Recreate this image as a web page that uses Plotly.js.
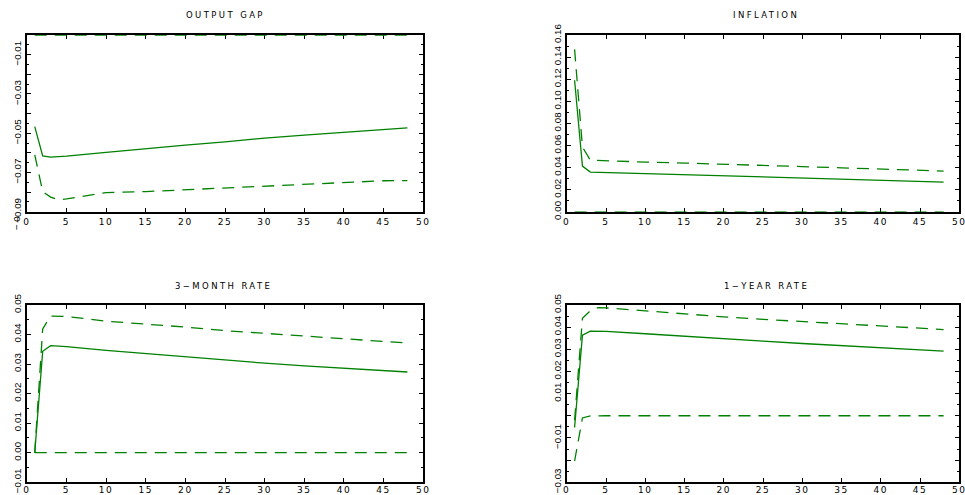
<!DOCTYPE html>
<html>
<head>
<meta charset="utf-8">
<script src="https://cdn.plot.ly/plotly-3.0.1.min.js"></script>
<style>
  html, body { margin: 0; padding: 0; background: #ffffff; }
  #chart { width: 965px; height: 495px; }
  .annotation-text { letter-spacing: 2.4px; }
  .xtick text, .x2tick text, .x3tick text, .x4tick text { letter-spacing: 1.6px; }
</style>
</head>
<body>
<div id="chart"></div>
<script>
// Horizon (periods at which values were read)
const periods = [1, 2, 3, 4, 5, 10, 15, 20, 25, 30, 35, 40, 45, 48];

// OUTPUT GAP
const gapMid   = [-0.0466, -0.0615, -0.0622, -0.0620, -0.0617, -0.0597, -0.0578, -0.0561, -0.0544, -0.0525, -0.0510, -0.0495, -0.0481, -0.0473];
const gapLower = [-0.0610, -0.0797, -0.0825, -0.0839, -0.0834, -0.0802, -0.0797, -0.0788, -0.0776, -0.0768, -0.0759, -0.0749, -0.0742, -0.0741];
const gapUpper = [0, 0, 0, 0, 0, 0, 0, 0, 0, 0, 0, 0, 0, 0];

// INFLATION
const infMid   = [0.119, 0.0414, 0.0360, 0.0358, 0.0356, 0.0348, 0.0335, 0.0323, 0.0312, 0.0302, 0.0293, 0.0284, 0.0275, 0.0269];
const infUpper = [0.147, 0.0586, 0.0468, 0.0465, 0.0462, 0.0450, 0.0441, 0.0432, 0.0420, 0.0409, 0.0398, 0.0387, 0.0376, 0.0369];
const infLower = [0, 0, 0, 0, 0, 0, 0, 0, 0, 0, 0, 0, 0, 0];

// 3-MONTH RATE
const m3Mid    = [0, 0.0343, 0.0362, 0.0361, 0.0359, 0.0346, 0.0335, 0.0323, 0.0313, 0.0303, 0.0294, 0.0286, 0.0278, 0.0273];
const m3Upper  = [0, 0.0419, 0.0462, 0.0462, 0.0461, 0.0445, 0.0436, 0.0425, 0.0413, 0.0404, 0.0394, 0.0385, 0.0376, 0.0371];
const m3Lower  = [0, 0, 0, 0, 0, 0, 0, 0, 0, 0, 0, 0, 0, 0];

// 1-YEAR RATE
const y1Mid    = [-0.0053, 0.0364, 0.0382, 0.0382, 0.0381, 0.0370, 0.0358, 0.0348, 0.0337, 0.0326, 0.0316, 0.0307, 0.0297, 0.0292];
const y1Upper  = [-0.0020, 0.0440, 0.0473, 0.0488, 0.0487, 0.0473, 0.0458, 0.0446, 0.0435, 0.0425, 0.0416, 0.0405, 0.0394, 0.0389];
const y1Lower  = [-0.0204, -0.0010, -0.0001, 0, 0, 0, 0, 0, 0, 0, 0, 0, 0, 0];

// Titles
const panelTitles = ['OUTPUT GAP', 'INFLATION', '3\u2212MONTH RATE', '1\u2212YEAR RATE'];

// Y tick values / labels (as printed in the original)
const gapTickVals = [-0.09, -0.08, -0.07, -0.06, -0.05, -0.04, -0.03, -0.02, -0.01, 0];
const gapTickText = ['\u22120.09', '', '\u22120.07', '', '\u22120.05', '', '\u22120.03', '', '\u22120.01', ''];
const gapStrayLabel = '\u22120';
const infTickVals = [0, 0.02, 0.04, 0.06, 0.08, 0.10, 0.12, 0.14, 0.16];
const infTickText = ['0.00', '0.02', '0.04', '0.06', '0.08', '0.10', '0.12', '0.14', '0.16'];
const m3TickVals  = [-0.01, 0, 0.01, 0.02, 0.03, 0.04, 0.05];
const m3TickText  = ['\u22120.01', '0.00', '0.01', '0.02', '0.03', '0.04', '0.05'];
const y1TickVals  = [-0.03, -0.02, -0.01, 0, 0.01, 0.02, 0.03, 0.04, 0.05];
const y1TickText  = ['\u22120.03', '', '\u22120.01', '', '0.01', '0.02', '0.03', '0.04', '0.05'];

const green = '#008000';
const dashStyle = '12px,8px';

function band(xa, ya, mid, up, lo) {
  return [
    { x: periods, y: up,  xaxis: xa, yaxis: ya, type: 'scatter', mode: 'lines',
      line: { color: green, width: 1.3, dash: dashStyle }, hoverinfo: 'skip' },
    { x: periods, y: lo,  xaxis: xa, yaxis: ya, type: 'scatter', mode: 'lines',
      line: { color: green, width: 1.3, dash: dashStyle }, hoverinfo: 'skip' },
    { x: periods, y: mid, xaxis: xa, yaxis: ya, type: 'scatter', mode: 'lines',
      line: { color: green, width: 1.3 }, hoverinfo: 'skip' }
  ];
}

const data = [].concat(
  band('x', 'y', gapMid, gapUpper, gapLower),
  band('x2', 'y2', infMid, infUpper, infLower),
  band('x3', 'y3', m3Mid, m3Upper, m3Lower),
  band('x4', 'y4', y1Mid, y1Upper, y1Lower)
);

const tickFont = { family: 'DejaVu Sans, sans-serif', size: 9, color: '#000000' };
const yTickFont = { family: 'Liberation Sans, Arial, sans-serif', size: 9.8, color: '#000000' };

function xAxis(domain, anchor, standoff) {
  return {
    domain: domain, anchor: anchor, range: [0, 50], tick0: 0, dtick: 5,
    showline: true, linecolor: '#000000', linewidth: 2, mirror: 'ticks',
    ticks: 'inside', ticklen: 4, tickwidth: 1, tickcolor: '#000000',
    showgrid: false, zeroline: false, tickfont: tickFont, layer: 'below traces',
    ticklabeloverflow: 'allow', ticklabelstandoff: standoff,
    fixedrange: true
  };
}
function yAxis(domain, anchor, range, vals, text, minorStep) {
  return {
    domain: domain, anchor: anchor, range: range,
    tickmode: 'array', tickvals: vals, ticktext: text, tickangle: -90,
    showline: true, linecolor: '#000000', linewidth: 2, mirror: 'ticks',
    ticks: 'inside', ticklen: 4, tickwidth: 1, tickcolor: '#000000',
    minor: { ticks: 'inside', ticklen: 2, tickwidth: 1, tickcolor: '#000000', dtick: minorStep, tick0: 0, showgrid: false },
    showgrid: false, zeroline: false, tickfont: yTickFont, layer: 'below traces',
    ticklabeloverflow: 'allow',
    fixedrange: true
  };
}

const topDom = [0.5721, 0.9293];
const botDom = [0.0257, 0.3840];
const leftDom = [0.0278, 0.4386];
const rightDom = [0.5873, 0.9941];

const titleFont = { family: 'DejaVu Sans, sans-serif', size: 8.5, color: '#000000' };

const layout = {
  width: 965, height: 495,
  margin: { l: 0, r: 0, t: 0, b: 0 },
  paper_bgcolor: '#ffffff', plot_bgcolor: '#ffffff',
  showlegend: false,
  xaxis:  xAxis(leftDom, 'y', 0),
  yaxis:  yAxis(topDom, 'x', [-0.09, 0], gapTickVals, gapTickText, 0.005),
  xaxis2: xAxis(rightDom, 'y2', 0),
  yaxis2: yAxis(topDom, 'x2', [0, 0.16], infTickVals, infTickText, 0.01),
  xaxis3: xAxis(leftDom, 'y3', -2),
  yaxis3: yAxis(botDom, 'x3', [-0.01, 0.05], m3TickVals, m3TickText, 0.005),
  xaxis4: xAxis(rightDom, 'y4', -2),
  yaxis4: yAxis(botDom, 'x4', [-0.03, 0.05], y1TickVals, y1TickText, 0.005),
  annotations: [
    { text: panelTitles[0], x: 0.2332, y: 0.9697, xref: 'paper', yref: 'paper', showarrow: false, font: titleFont, xanchor: 'center', yanchor: 'middle' },
    { text: panelTitles[1], x: 0.7933, y: 0.9697, xref: 'paper', yref: 'paper', showarrow: false, font: titleFont, xanchor: 'center', yanchor: 'middle' },
    { text: panelTitles[2], x: 0.2321, y: 0.4228, xref: 'paper', yref: 'paper', showarrow: false, font: titleFont, xanchor: 'center', yanchor: 'middle' },
    { text: panelTitles[3], x: 0.7938, y: 0.4228, xref: 'paper', yref: 'paper', showarrow: false, font: titleFont, xanchor: 'center', yanchor: 'middle' },
    { text: gapStrayLabel, x: 0.0165, y: 0.5515, xref: 'paper', yref: 'paper', showarrow: false, textangle: -90,
      font: yTickFont, xanchor: 'center', yanchor: 'middle' }
  ]
};

Plotly.newPlot('chart', data, layout, { displayModeBar: false, staticPlot: true });
</script>
</body>
</html>
